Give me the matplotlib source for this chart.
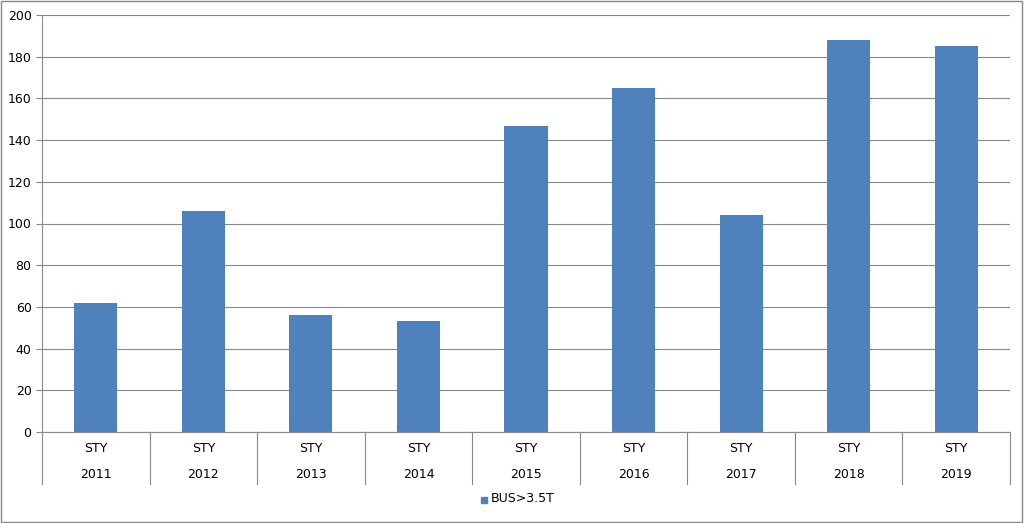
import matplotlib
matplotlib.use("Agg")
import matplotlib.pyplot as plt
from matplotlib.patches import Rectangle

years = ["2011", "2012", "2013", "2014", "2015", "2016", "2017", "2018", "2019"]
sub_labels = ["STY"] * len(years)
values = [62, 106, 56, 53, 147, 165, 104, 188, 185]
series_name = "BUS>3.5T"

W, H = 1024, 523
fig = plt.figure(figsize=(W / 100, H / 100), dpi=100)
fig.patches.append(Rectangle((0.001, 0.002), 0.997, 0.996, transform=fig.transFigure,
                             fill=False, edgecolor="#888888", linewidth=1))

left, right, top, bottom = 42, 1010, 15, 432
ax = fig.add_axes([left / W, 1 - bottom / H, (right - left) / W, (bottom - top) / H])

n = len(years)
x = list(range(n))
ax.bar(x, values, width=0.4, color="#4F81BD", zorder=3)
ax.set_xlim(-0.5, n - 0.5)
ax.set_ylim(0, 200)
ax.set_yticks(range(0, 201, 20))
ax.tick_params(axis="y", labelsize=9, length=4, color="#888888")
ax.set_xticks([])
ax.grid(axis="y", color="#888888", linewidth=0.8, zorder=0)
for s in ["top", "right"]:
    ax.spines[s].set_visible(False)
for s in ["left", "bottom"]:
    ax.spines[s].set_color("#888888")

# multi-level category axis
trans = ax.get_xaxis_transform()
depth = (484 - bottom) / (bottom - top)
for i in range(n + 1):
    ax.plot([i - 0.5, i - 0.5], [0, -depth], transform=trans, color="#888888",
            linewidth=0.8, clip_on=False)
row1 = -(449 - bottom) / (bottom - top)
row2 = -(474 - bottom) / (bottom - top)
for i in range(n):
    ax.text(i, row1, sub_labels[i], transform=trans, ha="center", va="center", fontsize=9)
    ax.text(i, row2, years[i], transform=trans, ha="center", va="center", fontsize=9)

# legend
fig.patches.append(Rectangle((481 / W, 1 - 503 / H), 6 / W, 6 / H, transform=fig.transFigure,
                             color="#4F81BD"))
fig.text(491 / W, 1 - 499 / H, series_name, fontsize=9, va="center", ha="left")

fig.savefig("out.png", dpi=100)
